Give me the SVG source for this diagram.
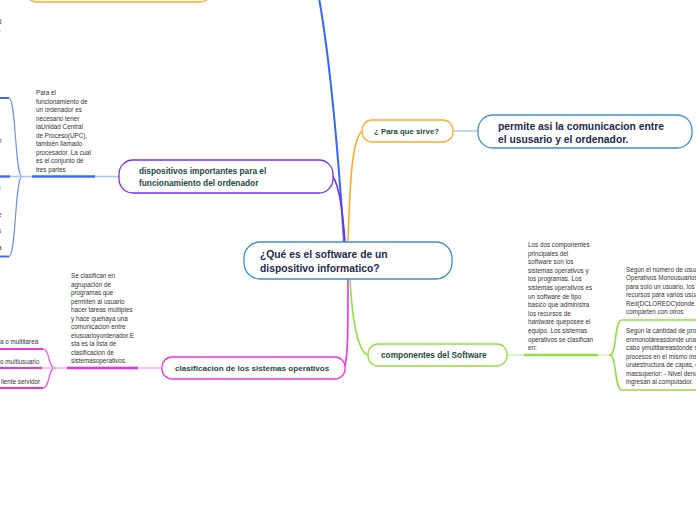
<svg xmlns="http://www.w3.org/2000/svg" width="696" height="520" viewBox="0 0 696 520">
<style>
.sm{font-family:"Liberation Sans",Arial,sans-serif;font-size:6.3px;fill:#333}
.nb{font-family:"Liberation Sans",Arial,sans-serif;font-weight:bold;fill:#1b4a3b}
.nv{font-family:"Liberation Sans",Arial,sans-serif;font-weight:bold;fill:#1c2a4e}
.box{fill:#fff;stroke-width:1.3}
.c{fill:none;stroke-linecap:round}
</style>
<rect width="696" height="520" fill="#fff"/>
<g id="connectors">
  <path class="c" d="M344,242 C338,150 330,60 319,-2" stroke="#3366ff" stroke-width="2"/>
  <path class="c" d="M333,177 C339,185 343,215 345,242" stroke="#7a2ff0" stroke-width="1.6"/>
  <path class="c" d="M348,242 C350,180 352,140 362,131" stroke="#ffaa2b" stroke-width="1.6"/>
  <path class="c" d="M348,279 C348,330 348,360 344,368" stroke="#ee33e0" stroke-width="1.6"/>
  <path class="c" d="M350,279 C352,320 358,352 368,355" stroke="#8fe040" stroke-width="1.6"/>
  <line x1="453" y1="131" x2="478" y2="131" stroke="#9cc3ee" stroke-width="1.3"/>
  <!-- dispositivos left -->
  <line x1="119" y1="176.5" x2="95" y2="176.5" stroke="#a9c1ff" stroke-width="1.5"/>
  <line x1="95" y1="176.5" x2="32" y2="176.5" stroke="#3b6ef5" stroke-width="2.6"/>
  <line x1="32" y1="176.5" x2="22" y2="176.5" stroke="#a9c1ff" stroke-width="1.5"/>
  <path class="c" d="M22,176.5 C15,176.5 16,98 9,98" stroke="#6f8ff8" stroke-width="1.2"/>
  <path class="c" d="M22,176.5 C15,176.5 16,256.5 9,256.5" stroke="#6f8ff8" stroke-width="1.2"/>
  <line x1="22" y1="176.5" x2="10" y2="176.5" stroke="#a9c1ff" stroke-width="1.5"/>
  <line x1="0" y1="98" x2="9" y2="98" stroke="#3b6ef5" stroke-width="2"/>
  <line x1="0" y1="176.5" x2="10" y2="176.5" stroke="#3b6ef5" stroke-width="2.4"/>
  <line x1="0" y1="256.5" x2="9" y2="256.5" stroke="#3b6ef5" stroke-width="2"/>
  <!-- clasificacion left -->
  <line x1="162" y1="368" x2="138" y2="368" stroke="#f5aaf0" stroke-width="1.5"/>
  <line x1="138" y1="368" x2="67" y2="368" stroke="#e633dd" stroke-width="2.6"/>
  <line x1="67" y1="368" x2="55" y2="368" stroke="#f5aaf0" stroke-width="1.5"/>
  <path class="c" d="M55,368 C48,368 50,349 43,349" stroke="#ee55e6" stroke-width="1.2"/>
  <path class="c" d="M55,368 C48,368 50,388 43,388" stroke="#ee55e6" stroke-width="1.2"/>
  <line x1="55" y1="368" x2="42" y2="368" stroke="#f5aaf0" stroke-width="1.5"/>
  <line x1="0" y1="349" x2="43" y2="349" stroke="#e633dd" stroke-width="2"/>
  <line x1="0" y1="368" x2="42" y2="368" stroke="#e633dd" stroke-width="2"/>
  <line x1="0" y1="388" x2="43" y2="388" stroke="#e633dd" stroke-width="2"/>
  <!-- componentes right -->
  <line x1="507" y1="355" x2="524" y2="355" stroke="#d3f0b0" stroke-width="1.5"/>
  <line x1="524" y1="355" x2="598" y2="355" stroke="#8fe040" stroke-width="2.6"/>
  <line x1="598" y1="355" x2="610" y2="355" stroke="#d3f0b0" stroke-width="1.5"/>
  <path class="c" d="M610,355 C617,355 614,320 622,320 L698,320" stroke="#8fe040" stroke-width="1.6"/>
  <path class="c" d="M610,355 C617,355 614,390 622,390 L698,390" stroke="#8fe040" stroke-width="1.6"/>
</g>
<g id="top-node">
  <rect class="box" x="25" y="-30" width="187" height="32" rx="12" stroke="#ffaa2b"/>
</g>
<g id="edge-fragments">
  <text class="sm" x="-2" y="24">d</text>
  <text class="sm" x="-1" y="31">,</text>
  <text class="sm" x="-2" y="143">n</text>
  <text class="sm" x="-1" y="190">i</text>
  <text class="sm" x="-2" y="217">e</text>
  <text class="sm" x="-2" y="233">s</text>
  <text class="sm" x="-2" y="250">a</text>
</g>
<g id="center">
  <rect class="box" x="244" y="242" width="208" height="37" rx="16" stroke="#3d8ddb"/>
  <text class="nv" font-size="10.3" x="260" y="258">¿Qué es el software de un</text>
  <text class="nv" font-size="10.3" x="260" y="272">dispositivo informatico?</text>
</g>
<g id="para-que-sirve">
  <rect class="box" x="362" y="120" width="91" height="22" rx="10" stroke="#ffaa2b"/>
  <text class="nb" font-size="7.8" x="374" y="134">¿ Para que sirve?</text>
</g>
<g id="permite">
  <rect class="box" x="478" y="115" width="214" height="33" rx="15" stroke="#3d8ddb"/>
  <text class="nv" font-size="10.3" x="498" y="130">permite asi la comunicacion entre</text>
  <text class="nv" font-size="10.3" x="498" y="143">el ususario y el ordenador.</text>
</g>
<g id="dispositivos">
  <rect class="box" x="119" y="160" width="214" height="33" rx="14" stroke="#7a2ff0"/>
  <text class="nb" font-size="8.3" x="139" y="174">dispositivos importantes para el</text>
  <text class="nb" font-size="8.3" x="139" y="186">funcionamiento del ordenador</text>
</g>
<g id="texto-ucp">
  <text class="sm" x="36" y="95">Para el</text>
  <text class="sm" x="36" y="103.5">funcionamiento de</text>
  <text class="sm" x="36" y="112">un ordenador es</text>
  <text class="sm" x="36" y="120.5">necesario tener</text>
  <text class="sm" x="36" y="129">laUnidad Central</text>
  <text class="sm" x="36" y="137.5">de Proceso(UPC),</text>
  <text class="sm" x="36" y="146">también llamado</text>
  <text class="sm" x="36" y="154.5">procesador. La cual</text>
  <text class="sm" x="36" y="163">es el conjunto de</text>
  <text class="sm" x="36" y="171.5">tres partes</text>
</g>
<g id="clasificacion">
  <rect class="box" x="162" y="357" width="183" height="22" rx="10" stroke="#ee33e0"/>
  <text class="nb" font-size="8.1" x="175" y="371">clasificacion de los sistemas operativos</text>
</g>
<g id="texto-clasificacion">
  <text class="sm" x="71" y="278">Se clasifican en</text>
  <text class="sm" x="71" y="286.5">agrupación de</text>
  <text class="sm" x="71" y="295">programas que</text>
  <text class="sm" x="71" y="303.5">permiten al usuario</text>
  <text class="sm" x="71" y="312">hacer tareas múltiples</text>
  <text class="sm" x="71" y="320.5">y hace quehaya una</text>
  <text class="sm" x="71" y="329">comunicacion entre</text>
  <text class="sm" x="71" y="337.5">elusuarioyordenador.E</text>
  <text class="sm" x="71" y="346">sta es la lista de</text>
  <text class="sm" x="71" y="354.5">clasificacion de</text>
  <text class="sm" x="71" y="363">sistemasoperativos.</text>
</g>
<g id="clasif-ramas">
  <text class="sm" x="0" y="343.5">a o multitarea</text>
  <text class="sm" x="0" y="364">o multiusuario</text>
  <text class="sm" x="1" y="384">liente servidor</text>
</g>
<g id="componentes">
  <rect class="box" x="368" y="344" width="139" height="22" rx="10" stroke="#8fe040"/>
  <text class="nb" font-size="8.3" x="381" y="358">componentes del Software</text>
</g>
<g id="texto-componentes">
  <text class="sm" x="528" y="247">Los dos componentes</text>
  <text class="sm" x="528" y="255.6">principales del</text>
  <text class="sm" x="528" y="264.2">software son los</text>
  <text class="sm" x="528" y="272.8">sistemas operativos y</text>
  <text class="sm" x="528" y="281.4">los programas. Los</text>
  <text class="sm" x="528" y="290">sistemas operativos es</text>
  <text class="sm" x="528" y="298.6">un software de tipo</text>
  <text class="sm" x="528" y="307.2">basico que administra</text>
  <text class="sm" x="528" y="315.8">los recursos de</text>
  <text class="sm" x="528" y="324.4">hardware queposee el</text>
  <text class="sm" x="528" y="333">equipo. Los sistemas</text>
  <text class="sm" x="528" y="341.6">operativos se clasifican</text>
  <text class="sm" x="528" y="350.2">en:</text>
</g>
<g id="usuarios">
  <text class="sm" x="626" y="271.5">Según el número de usua</text>
  <text class="sm" x="626" y="280">Operativos Monousuarios</text>
  <text class="sm" x="626" y="288.5">para solo un usuario, los l</text>
  <text class="sm" x="626" y="297">recursos para varios usua</text>
  <text class="sm" x="626" y="305.5">Red(DCLOREDC)donde los</text>
  <text class="sm" x="626" y="314">comparten con otros</text>
</g>
<g id="tareas">
  <text class="sm" x="626" y="333">Según la cantidad de proc</text>
  <text class="sm" x="626" y="341.5">enmonotáreasdonde una</text>
  <text class="sm" x="626" y="350">cabo ymultitareasdonde s</text>
  <text class="sm" x="626" y="358.5">procesos en el mismo ins</text>
  <text class="sm" x="626" y="367">unaestructura de capas, c</text>
  <text class="sm" x="626" y="375.5">massuperior: - Nivel denú</text>
  <text class="sm" x="626" y="384">ingresan al computador.</text>
</g>
</svg>
